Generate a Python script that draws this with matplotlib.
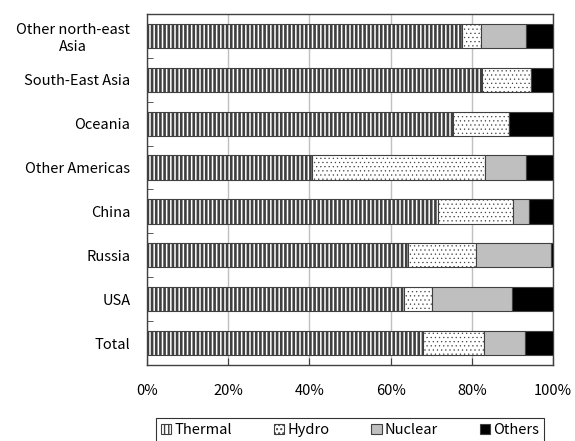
import matplotlib
matplotlib.use("Agg")
import matplotlib.pyplot as plt
import numpy as np

plt.rcParams['font.family'] = ['Noto Sans CJK KR', 'DejaVu Sans']

# Data (shares in %, top to bottom as drawn)
regions = ["Other north-east\nAsia", "South-East Asia", "Oceania", "Other Americas",
           "China", "Russia", "USA", "Total"]
thermal = [77.7, 82.4, 75.3, 40.6, 71.8, 64.2, 63.3, 68.0]
hydro = [4.6, 12.2, 13.9, 42.7, 18.3, 16.8, 7.0, 15.0]
nuclear = [11.0, 0.0, 0.0, 10.0, 3.9, 18.6, 19.5, 10.0]
others = [6.7, 5.4, 10.8, 6.7, 6.0, 0.4, 10.2, 7.0]
series_names = ["Thermal", "Hydro", "Nuclear", "Others"]

fig = plt.figure(figsize=(5.75, 4.41), dpi=100)
ax = fig.add_axes([0.2557, 0.1723, 0.7060, 0.7960])

y = np.arange(len(regions))
styles = [(dict(facecolor="white", hatch="||||"), 1.9),
          (dict(facecolor="white", hatch="...."), 0.4),
          (dict(facecolor="#bfbfbf", hatch=None), 1.0),
          (dict(facecolor="black", hatch=None), 1.0)]
left = np.zeros(len(regions))
for name, vals, (st, hlw) in zip(series_names, [thermal, hydro, nuclear, others], styles):
    vals = np.array(vals)
    with plt.rc_context({"hatch.linewidth": hlw}):
        ax.barh(y, vals, left=left, height=0.55, label=name, edgecolor="#404040",
                linewidth=0.8, zorder=3, **st)
    left += vals

ax.set_xlim(0, 100)
ax.set_ylim(len(regions) - 0.5, -0.5)
ax.set_xticks(np.arange(0, 101, 20))
ax.set_xticklabels([f"{v}%" for v in range(0, 101, 20)], fontsize=10.5)
ax.set_yticks(y)
ax.set_yticklabels(regions, fontsize=10.5, multialignment="center")
ax.set_yticks(np.arange(-0.5, len(regions), 1), minor=True)
ax.tick_params(axis="y", which="major", length=0, pad=12)
ax.tick_params(axis="y", which="minor", direction="in", length=4, color="#404040")
ax.tick_params(axis="x", direction="in", length=5, color="#404040", pad=14)
ax.xaxis.grid(True, color="#bfbfbf", linewidth=1.0, zorder=0)
ax.set_axisbelow(True)
for s in ax.spines.values():
    s.set_color("#404040")
    s.set_linewidth(1.0)

leg = ax.legend(loc="upper center", bbox_to_anchor=(0.5, -0.151), ncol=4,
                fontsize=10.5, frameon=True, fancybox=False, edgecolor="black",
                handlelength=0.7, handleheight=0.7, handletextpad=0.2,
                columnspacing=2.9, borderpad=0.35, borderaxespad=0)
leg.get_frame().set_linewidth(0.8)

fig.savefig("out.png", dpi=100)
